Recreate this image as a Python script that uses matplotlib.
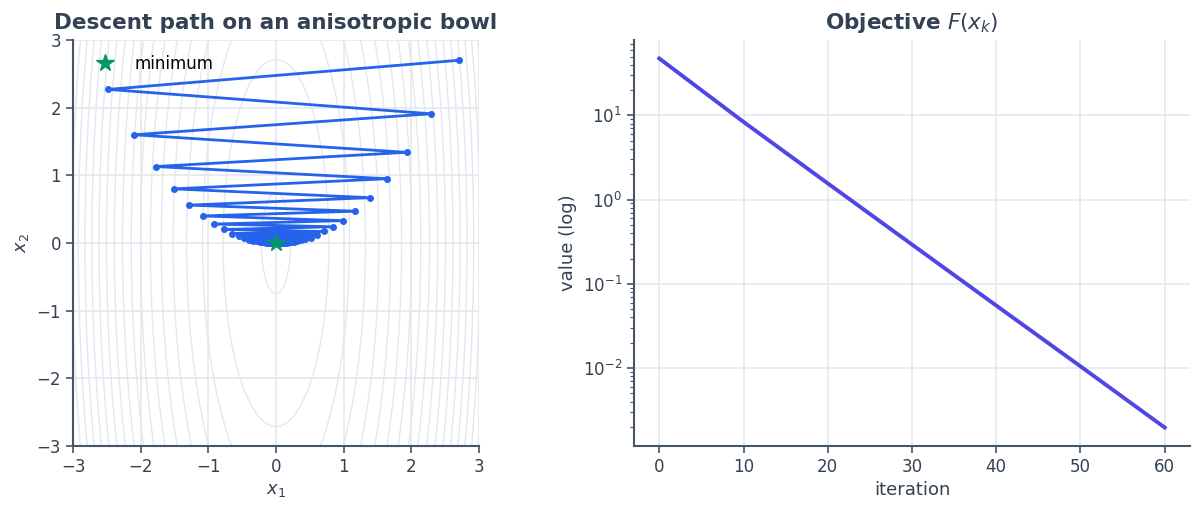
import numpy as np
import matplotlib
matplotlib.use("Agg")
import matplotlib.pyplot as plt

# descent iterates
x1_path = [2.70, -2.48, 2.29, -2.10, 1.93, -1.78, 1.64, -1.51, 1.39, -1.28,
           1.17, -1.08, 0.99, -0.91, 0.84, -0.77, 0.71, -0.65, 0.60, -0.55,
           0.51, -0.47, 0.43, -0.40, 0.37, -0.34, 0.31, -0.28, 0.26, -0.24,
           0.22, -0.20, 0.19, -0.17, 0.16, -0.15, 0.13, -0.12, 0.11, -0.10,
           0.10, -0.09, 0.08, -0.08, 0.07, -0.06, 0.06, -0.05, 0.05, -0.05,
           0.04, -0.04, 0.04, -0.03, 0.03, -0.03, 0.03, -0.02, 0.02, -0.02,
           0.02]
x2_path = [2.70, 2.27, 1.91, 1.60, 1.34, 1.13, 0.95, 0.80, 0.67, 0.56,
           0.47, 0.40, 0.33, 0.28, 0.24, 0.20, 0.17, 0.14, 0.12, 0.10,
           0.08, 0.07, 0.06, 0.05, 0.04, 0.035, 0.03, 0.024, 0.02, 0.017,
           0.015, 0.012, 0.010, 0.009, 0.007, 0.006, 0.005, 0.004, 0.004, 0.003,
           0.003, 0.002, 0.002, 0.002, 0.001, 0.001, 0.001, 0.001, 0.001, 0.001,
           0.001, 0.0, 0.0, 0.0, 0.0, 0.0, 0.0, 0.0, 0.0, 0.0,
           0.0]

# objective values (log scale panel)
iters = [0, 10, 20, 30, 40, 50, 60]
obj_vals = [47.4, 8.37, 1.56, 0.293, 0.0553, 0.0105, 0.00197]

# bowl curvatures for the background contours
a_curv, b_curv = 12.0, 1.0

TEXT = "#334155"
SPINE = "#475569"
GRID = "#e5e7eb"

plt.rcParams["font.family"] = ["DejaVu Sans"]
fig = plt.figure(figsize=(12.02, 5.12), dpi=100)
ax1 = fig.add_axes([73 / 1202, 1 - 446 / 512, 406 / 1202, 406 / 512])
ax2 = fig.add_axes([634 / 1202, 1 - 446 / 512, 556 / 1202, 406 / 512])

def style(ax):
    for s in ["top", "right"]:
        ax.spines[s].set_visible(False)
    for s in ["left", "bottom"]:
        ax.spines[s].set_color(SPINE)
        ax.spines[s].set_linewidth(1.5)
    ax.tick_params(colors=SPINE, labelcolor=TEXT, labelsize=12, width=1.2, length=5)
    ax.tick_params(which="minor", colors=SPINE, width=0.8, length=3)
    ax.grid(True, color=GRID, linewidth=1.2)
    ax.set_axisbelow(True)

# left: contours + path
g = np.linspace(-3, 3, 400)
G1, G2 = np.meshgrid(g, g)
Z = 0.5 * (a_curv * G1 ** 2 + b_curv * G2 ** 2)
ax1.contour(G1, G2, Z, levels=np.linspace(0.28, 58, 18), colors="#e2e8f0", linewidths=1.0)
ax1.plot(x1_path, x2_path, "-o", color="#2563eb", lw=2, ms=4, zorder=3)
ax1.plot([0], [0], "*", color="#059669", ms=13, zorder=4, label="minimum", linestyle="none")
ax1.set_xlim(-3, 3)
ax1.set_ylim(-3, 3)
ax1.set_xticks(range(-3, 4))
ax1.set_yticks(range(-3, 4))
style(ax1)
ax1.set_xlabel("$x_1$", color=TEXT, fontsize=13)
ax1.set_ylabel("$x_2$", color=TEXT, fontsize=13)
ax1.set_title("Descent path on an anisotropic bowl", color=TEXT, fontsize=15.5,
              fontweight="bold", pad=8)
ax1.legend(loc="upper left", frameon=False, fontsize=12)

# right: objective on log scale
ax2.plot(iters, obj_vals, color="#4f46e5", lw=2.8)
ax2.set_yscale("log")
ax2.set_xticks(range(0, 61, 10))
style(ax2)
ax2.grid(False, which="minor")
ax2.set_xlabel("iteration", color=TEXT, fontsize=13)
ax2.set_ylabel("value (log)", color=TEXT, fontsize=13)
ax2.set_title("Objective $F(x_k)$", color=TEXT, fontsize=15.5, fontweight="bold", pad=8)

fig.savefig("out.png", dpi=100)
